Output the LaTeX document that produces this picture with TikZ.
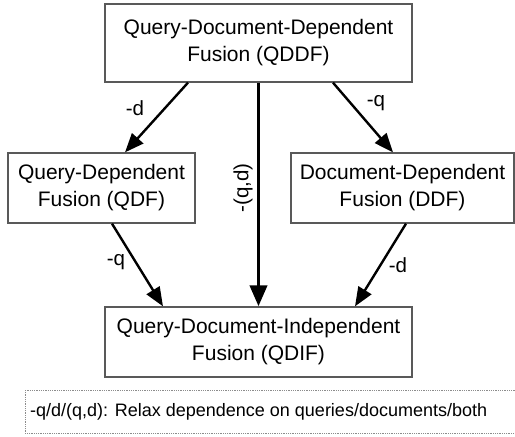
\documentclass[tikz,border=0pt]{standalone}
\usepackage{fontspec}
\setmainfont{Liberation Sans}
\usetikzlibrary{arrows.meta,calc}
\begin{document}
\begin{tikzpicture}[x=1pt,y=-1pt,
  box/.style={draw=black!65,line width=1.3pt,fill=white,align=center,inner sep=0pt,
    font=\fontsize{21}{27}\selectfont},
  conn/.style={line width=2.4pt,-{Triangle[length=19pt,width=15pt]}},
  bigconn/.style={line width=3.8pt,-{Triangle[length=21pt,width=17pt]}},
  lab/.style={font=\fontsize{20.5}{24}\selectfont,inner sep=0pt}]
\useasboundingbox (0,0) rectangle (515,437);
\node[box,minimum width=307pt,minimum height=78pt] (qddf) at (258.5,43) {Query-Document-Dependent\\Fusion (QDDF)};
\node[box,minimum width=187pt,minimum height=70pt] (qdf) at (101.5,188) {Query-Dependent\\Fusion (QDF)};
\node[box,minimum width=223pt,minimum height=70pt] (ddf) at (402.5,188) {Document-Dependent\\Fusion (DDF)};
\node[box,minimum width=307pt,minimum height=70pt] (qdif) at (258.5,342) {Query-Document-Independent\\Fusion (QDIF)};
\draw[conn] ([xshift=-70.5pt]qddf.south) -- ([xshift=23.5pt]qdf.north);
\draw[conn] ([xshift=74.5pt]qddf.south) -- ([xshift=-9.5pt]ddf.north);
\draw[conn] ([xshift=10.5pt]qdf.south) -- ([xshift=-95.5pt]qdif.north);
\draw[conn] ([xshift=3.5pt]ddf.south) -- ([xshift=96.5pt]qdif.north);
\draw[bigconn] (qddf.south) -- (qdif.north);
\node[lab] (l1) at (135,108) {-d};
\node[lab] (l2) at (376,103) {-q};
\node[lab] (l3) at (116,262) {-q};
\node[lab] (l4) at (398,265) {-d};
\node[lab,rotate=90] (l5) at (243,188) {-(q,d)};
\draw[draw=black!45,line width=0.8pt,densely dotted] (25,390) rectangle (516,433);
\node[anchor=west,inner sep=0pt,font=\fontsize{18}{22}\selectfont] (leg) at (30,411.5) {-q/d/(q,d): Relax dependence on queries/documents/both};
\end{tikzpicture}
\end{document}
